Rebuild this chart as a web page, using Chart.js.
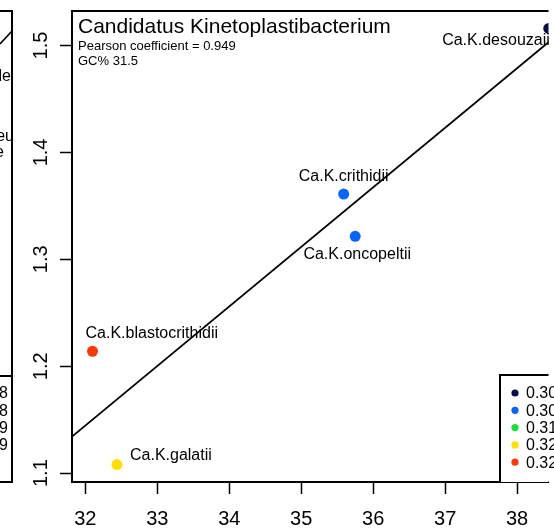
<!DOCTYPE html>
<html>
<head>
<meta charset="utf-8">
<script src="https://cdn.jsdelivr.net/npm/chart.js@4/dist/chart.umd.min.js"></script>
<style>
  body { margin: 0; background: #fff; }
  #wrap { width: 554px; height: 530px; }
</style>
</head>
<body>
<div id="wrap"><canvas id="gcChart" width="554" height="530"></canvas></div>
<script>
// values
const species = ['Ca.K.desouzaii', 'Ca.K.crithidii', 'Ca.K.oncopeltii', 'Ca.K.blastocrithidii', 'Ca.K.galatii'];
const xValues = [38.44, 35.59, 35.75, 32.10, 32.44];
const yValues = [1.516, 1.361, 1.3215, 1.214, 1.108];
const pointColors = ['#0b0b45', '#0a64f5', '#0a64f5', '#ff3a0a', '#ffdf00'];

const legendLabels = ['0.301', '0.308', '0.315', '0.322', '0.329'];
const legendColors = ['#0b0b45', '#0a64f5', '#1fdc3c', '#ffdf00', '#ff3a0a'];

const xTicks = [32, 33, 34, 35, 36, 37, 38];
const yTicks = [1.1, 1.2, 1.3, 1.4, 1.5];

const xMin = 31.815, xMax = 38.436;
const yMin = 1.0917, yMax = 1.5323;

// neighbour panel (cut off on the left)
const sideLabels = ['le', 'eu', 'e'];
const sideLegend = ['0.318', '0.318', '0.329', '0.329'];

// least squares fit line
const n = xValues.length;
const mx = xValues.reduce((a, b) => a + b, 0) / n;
const my = yValues.reduce((a, b) => a + b, 0) / n;
let sxy = 0, sxx = 0;
for (let i = 0; i < n; i++) {
  sxy += (xValues[i] - mx) * (yValues[i] - my);
  sxx += (xValues[i] - mx) * (xValues[i] - mx);
}
const slope = sxy / sxx;
const intercept = my - slope * mx;
const fitLine = [xMin, xMax].map(x => ({x: x, y: intercept + slope * x}));

const FONT = 'Liberation Sans, Arial, Helvetica, sans-serif';

// label offsets (px) relative to each point: dx, dy(baseline), align
const labelPos = [
  [1, 17, 'right'],
  [0, -13, 'center'],
  [2, 23, 'center'],
  [-7, -13, 'left'],
  [13, -5, 'left']
];

const decorations = {
  id: 'decorations',
  afterDatasetsDraw(chart) {
    const ctx = chart.ctx;
    const area = chart.chartArea;
    const xs = chart.scales.x, ys = chart.scales.y;
    ctx.save();
    ctx.strokeStyle = '#000';
    ctx.lineWidth = 2;
    // top border
    ctx.beginPath();
    ctx.moveTo(area.left, area.top);
    ctx.lineTo(area.right, area.top);
    ctx.stroke();

    // y tick labels, rotated like R
    ctx.fillStyle = '#000';
    ctx.font = '20px ' + FONT;
    ctx.textAlign = 'center';
    ctx.textBaseline = 'middle';
    yTicks.forEach(v => {
      ctx.save();
      ctx.translate(41, ys.getPixelForValue(v));
      ctx.rotate(-Math.PI / 2);
      ctx.fillText(v.toFixed(1), 0, 0);
      ctx.restore();
    });

    // title block
    ctx.textAlign = 'left';
    ctx.textBaseline = 'alphabetic';
    ctx.font = '21px ' + FONT;
    ctx.fillText('Candidatus Kinetoplastibacterium', 78, 33);
    ctx.font = '13px ' + FONT;
    ctx.fillText('Pearson coefficient = 0.949', 78, 50);
    ctx.fillText('GC% 31.5', 78, 65);

    // point labels
    ctx.font = '16px ' + FONT;
    species.forEach((s, i) => {
      const px = xs.getPixelForValue(xValues[i]);
      const py = ys.getPixelForValue(yValues[i]);
      const p = labelPos[i];
      ctx.textAlign = p[2];
      ctx.fillText(s, px + p[0], py + p[1]);
    });

    // legend box bottom right
    const lx = 500, ly = 375;
    ctx.fillStyle = '#fff';
    ctx.fillRect(lx, ly, area.right - lx, area.bottom - ly);
    ctx.beginPath();
    ctx.moveTo(area.right, ly);
    ctx.lineTo(lx, ly);
    ctx.lineTo(lx, area.bottom);
    ctx.stroke();
    ctx.textAlign = 'left';
    ctx.textBaseline = 'middle';
    legendLabels.forEach((t, i) => {
      const ry = 393 + i * 17.3;
      ctx.fillStyle = legendColors[i];
      ctx.beginPath();
      ctx.arc(515, ry, 3.6, 0, Math.PI * 2);
      ctx.fill();
      ctx.fillStyle = '#000';
      ctx.fillText(t, 526, ry + 1);
    });

    // neighbour panel edge
    ctx.beginPath();
    ctx.moveTo(0, area.top);
    ctx.lineTo(12, area.top);
    ctx.lineTo(12, area.bottom);
    ctx.lineTo(0, area.bottom);
    ctx.moveTo(0, 376);
    ctx.lineTo(12, 376);
    ctx.stroke();
    ctx.lineWidth = 1.6;
    ctx.beginPath();
    ctx.moveTo(0, 44);
    ctx.lineTo(12, 31);
    ctx.stroke();
    ctx.fillStyle = '#000';
    ctx.textAlign = 'right';
    ctx.save();
    ctx.beginPath();
    ctx.rect(0, 0, 11, 530);
    ctx.clip();
    ctx.fillText(sideLabels[0], 11, 77);
    ctx.fillText(sideLabels[1], 14, 137);
    ctx.fillText(sideLabels[2], 4, 153);
    sideLegend.forEach((t, i) => ctx.fillText(t, 8, 393 + i * 17.3 + 1));
    ctx.restore();
    ctx.restore();
  }
};

const ctx = document.getElementById('gcChart').getContext('2d');
const gcChart = new Chart(ctx, {
  type: 'scatter',
  data: {
    datasets: [
      {
        type: 'line',
        data: fitLine,
        borderColor: '#000',
        borderWidth: 1.8,
        pointRadius: 0,
        fill: false,
        order: 2
      },
      {
        data: xValues.map((x, i) => ({x: x, y: yValues[i]})),
        pointBackgroundColor: pointColors,
        pointBorderWidth: 0,
        pointRadius: 5.5,
        order: 1
      }
    ]
  },
  options: {
    responsive: false,
    animation: false,
    devicePixelRatio: 1,
    layout: {padding: {top: 11, right: 0, left: 0, bottom: 0}},
    plugins: {legend: {display: false}, tooltip: {enabled: false}},
    scales: {
      x: {
        type: 'linear',
        min: xMin,
        max: xMax,
        afterBuildTicks: s => { s.ticks = xTicks.map(v => ({value: v})); },
        afterFit: s => { s.height = 48; },
        grid: {drawOnChartArea: false, drawTicks: true, tickLength: 12, tickColor: '#000', tickWidth: 1.5},
        border: {display: true, color: '#000', width: 2},
        ticks: {color: '#000', font: {family: FONT, size: 20}, padding: 13, maxRotation: 0, autoSkip: false}
      },
      y: {
        type: 'linear',
        min: yMin,
        max: yMax,
        afterBuildTicks: s => { s.ticks = yTicks.map(v => ({value: v})); },
        afterFit: s => { s.width = 72; },
        grid: {drawOnChartArea: false, drawTicks: true, tickLength: 12, tickColor: '#000', tickWidth: 1.5},
        border: {display: true, color: '#000', width: 2},
        ticks: {display: false}
      }
    }
  },
  plugins: [decorations]
});
</script>
</body>
</html>
